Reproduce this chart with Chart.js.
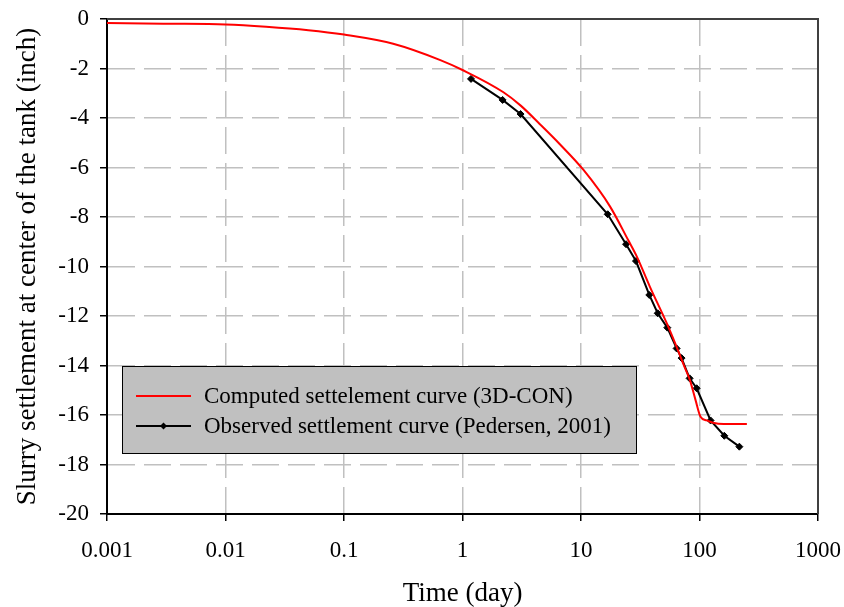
<!DOCTYPE html>
<html>
<head>
<meta charset="utf-8">
<script src="https://cdn.jsdelivr.net/npm/chart.js@4/dist/chart.umd.min.js"></script>
<style>
  body { margin: 0; background: #fff; }
</style>
</head>
<body>
<canvas id="chart" width="844" height="607"></canvas>
<script>
// ---- data ----
const computedTime = [0.001, 0.003, 0.01, 0.022, 0.05, 0.1, 0.26, 0.65, 1, 2.2, 3.1, 4.5, 6.6, 10.5, 17.6, 25, 29.6, 38, 53, 64, 74.6, 83, 92.5, 102, 115, 130, 160, 251];
const computedSettle = [-0.16, -0.19, -0.22, -0.31, -0.45, -0.63, -1.0, -1.66, -2.06, -2.95, -3.5, -4.25, -5.05, -6.1, -7.58, -8.93, -9.6, -10.8, -12.3, -13.24, -14.05, -14.59, -15.39, -16.07, -16.22, -16.31, -16.36, -16.36];

const observedTime = [1.18, 2.18, 3.09, 16.8, 24.0, 29.1, 37.7, 44.4, 53.5, 64.1, 70.6, 82.5, 94.6, 124, 162, 217];
const observedSettle = [-2.42, -3.27, -3.84, -7.89, -9.10, -9.78, -11.15, -11.89, -12.47, -13.31, -13.70, -14.52, -14.92, -16.22, -16.84, -17.28];

const xTicks = [0.001, 0.01, 0.1, 1, 10, 100, 1000];
const xTickLabels = ["0.001", "0.01", "0.1", "1", "10", "100", "1000"];

const legendLabels = ["Computed settelement curve (3D-CON)", "Observed settlement curve (Pedersen, 2001)"];

const serif = "'Liberation Serif', 'Times New Roman', serif";

function toPoints(xs, ys) {
  return xs.map((x, i) => ({ x: x, y: ys[i] }));
}

// top and right frame of the plot area
const framePlugin = {
  id: "frame",
  beforeDatasetsDraw(chart) {
    const { ctx, chartArea: a } = chart;
    ctx.save();
    ctx.strokeStyle = "#404040";
    ctx.lineWidth = 2;
    ctx.beginPath();
    ctx.moveTo(a.left, a.top);
    ctx.lineTo(a.right, a.top);
    ctx.lineTo(a.right, a.bottom);
    ctx.stroke();
    ctx.restore();
  }
};

// grey boxed legend inside the plot
const boxLegend = {
  id: "boxLegend",
  afterDraw(chart) {
    const ctx = chart.ctx;
    const box = { x: 122, y: 366, w: 514, h: 87 };
    ctx.save();
    ctx.fillStyle = "#c0c0c0";
    ctx.fillRect(box.x, box.y, box.w, box.h);
    ctx.strokeStyle = "#000";
    ctx.lineWidth = 1;
    ctx.strokeRect(box.x + 0.5, box.y + 0.5, box.w, box.h);

    const rows = [396, 426];
    chart.data.datasets.forEach((ds, i) => {
      const y = rows[i];
      ctx.strokeStyle = ds.borderColor;
      ctx.lineWidth = 2;
      ctx.beginPath();
      ctx.moveTo(136, y);
      ctx.lineTo(191, y);
      ctx.stroke();
      if (ds.pointRadius > 0) {
        ctx.fillStyle = ds.pointBackgroundColor;
        ctx.beginPath();
        ctx.moveTo(163.5, y - 3.5);
        ctx.lineTo(167, y);
        ctx.lineTo(163.5, y + 3.5);
        ctx.lineTo(160, y);
        ctx.closePath();
        ctx.fill();
      }
      ctx.fillStyle = "#000";
      ctx.font = "23px " + serif;
      ctx.textAlign = "left";
      ctx.textBaseline = "middle";
      ctx.fillText(legendLabels[i], 204, y + 1);
    });
    ctx.restore();
  }
};

new Chart(document.getElementById("chart"), {
  type: "scatter",
  data: {
    datasets: [
      {
        label: legendLabels[0],
        data: toPoints(computedTime, computedSettle),
        showLine: true,
        borderColor: "#ff0000",
        borderWidth: 2,
        pointRadius: 0,
        cubicInterpolationMode: "monotone"
      },
      {
        label: legendLabels[1],
        data: toPoints(observedTime, observedSettle),
        showLine: true,
        borderColor: "#000000",
        borderWidth: 2,
        pointStyle: "rectRot",
        pointRadius: 3.5,
        pointBackgroundColor: "#000000",
        pointBorderColor: "#000000",
        pointBorderWidth: 1
      }
    ]
  },
  options: {
    responsive: false,
    animation: false,
    layout: { padding: { top: 19, right: 26, left: 0, bottom: 0 } },
    plugins: {
      legend: { display: false },
      tooltip: { enabled: false }
    },
    scales: {
      x: {
        type: "logarithmic",
        min: 0.001,
        max: 1000,
        afterBuildTicks: scale => {
          scale.ticks = xTicks.map(v => ({ value: v }));
        },
        afterFit: scale => {
          scale.height = 93;
          scale.paddingLeft = 0;
          scale.paddingRight = 0;
        },
        ticks: {
          autoSkip: false,
          maxRotation: 0,
          padding: 16,
          color: "#000",
          font: { family: serif, size: 23 },
          callback: (v) => {
            const i = xTicks.findIndex(t => Math.abs(t - v) / t < 1e-6);
            return i >= 0 ? xTickLabels[i] : "";
          }
        },
        grid: {
          color: "#c0c0c0",
          lineWidth: 1.5,
          tickColor: "#000",
          tickLength: 7,
          tickWidth: 1.5
        },
        border: { color: "#000", width: 2, dash: [27, 9] },
        title: {
          display: true,
          text: "Time (day)",
          color: "#000",
          font: { family: serif, size: 27, lineHeight: 1 },
          padding: { top: 0, bottom: 0 }
        }
      },
      y: {
        min: -20,
        max: 0,
        afterFit: scale => {
          scale.width = 107;
          scale.paddingTop = 0;
          scale.paddingBottom = 0;
        },
        ticks: {
          stepSize: 2,
          padding: 11,
          color: "#000",
          font: { family: serif, size: 23 }
        },
        grid: {
          color: "#c0c0c0",
          lineWidth: 1.5,
          tickColor: "#000",
          tickLength: 7,
          tickWidth: 1.5
        },
        border: { color: "#000", width: 2, dash: [27, 9] },
        title: {
          display: true,
          text: "Slurry settlement at center of the tank (inch)",
          color: "#000",
          font: { family: serif, size: 27, lineHeight: 1 },
          padding: { top: 14, bottom: 0 }
        }
      }
    }
  },
  plugins: [framePlugin, boxLegend]
});
</script>
</body>
</html>
